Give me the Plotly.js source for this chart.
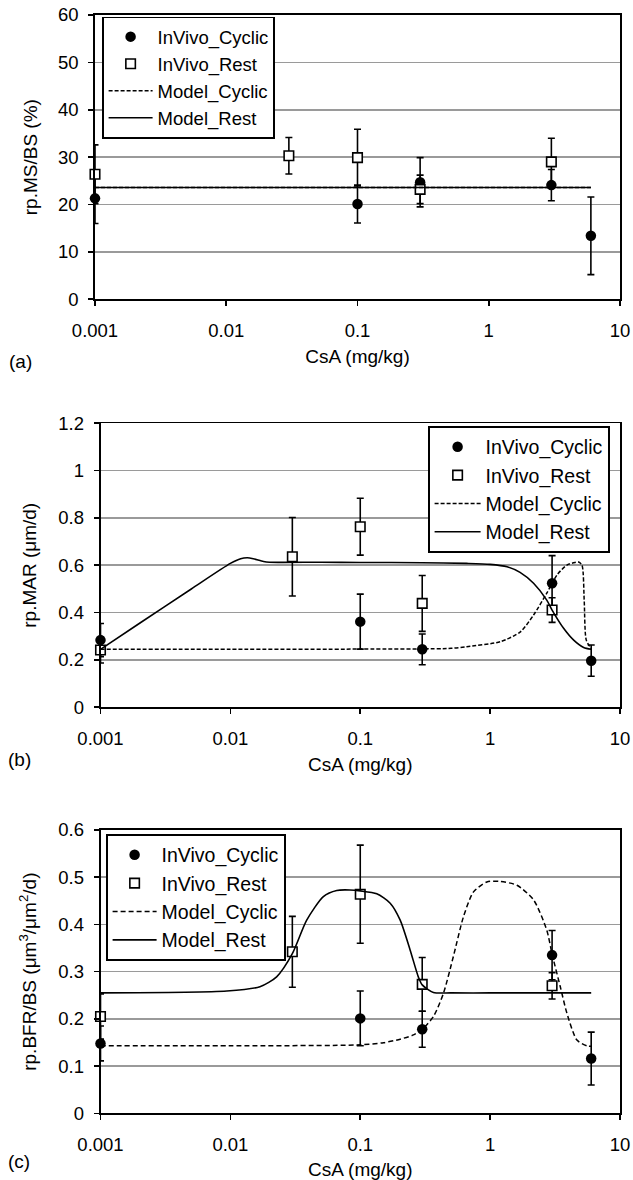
<!DOCTYPE html>
<html>
<head>
<meta charset="utf-8">
<script src="https://cdn.plot.ly/plotly-3.0.1.min.js"></script>
<style>html,body{margin:0;padding:0;background:#fff;}#chart{width:633px;height:1180px;}</style>
</head>
<body>
<div id="chart"></div>
<script>
// ---------- DATA ----------
const xTickVals = [0.001, 0.01, 0.1, 1, 10];
const xTickText = ["0.001", "0.01", "0.1", "1", "10"];
const seriesNames = ["InVivo_Cyclic", "InVivo_Rest", "Model_Cyclic", "Model_Rest"];

// Panel (a) rp.MS/BS (%)
const aCycX = [0.001, 0.1, 0.3, 3, 6];
const aCycY = [21.3, 20.1, 24.7, 24.1, 13.4];
const aCycErr = [5.3, 4.0, 5.2, 3.3, 8.2];
const aRestX = [0.001, 0.03, 0.1, 0.3, 3];
const aRestY = [26.4, 30.3, 29.9, 23.2, 29.0];
const aRestErr = [6.2, 3.85, 6.0, 3.0, 5.0];
const aModelX = [0.001, 6];
const aModelCyc = [23.6, 23.6];
const aModelRest = [23.6, 23.6];

// Panel (b) rp.MAR (um/d)
const bCycX = [0.001, 0.1, 0.3, 3, 6];
const bCycY = [0.284, 0.362, 0.245, 0.524, 0.197];
const bCycErr = [0.07, 0.116, 0.065, 0.117, 0.066];
const bRestX = [0.001, 0.03, 0.1, 0.3, 3];
const bRestY = [0.242, 0.636, 0.763, 0.439, 0.411];
const bRestErr = [0.055, 0.166, 0.12, 0.118, 0.052];
const bModelCycX = [0.001, 0.01, 0.1, 0.5, 0.66, 1.2, 1.71, 2.16, 2.73, 3.27, 3.9, 4.5, 4.8, 5.1, 5.3, 5.5, 6];
const bModelCyc = [0.245, 0.245, 0.246, 0.249, 0.256, 0.277, 0.319, 0.39, 0.482, 0.559, 0.601, 0.612, 0.614, 0.6, 0.453, 0.284, 0.248];
const bModelRestX = [0.001, 0.002, 0.005, 0.01, 0.012, 0.0135, 0.015, 0.018, 0.02, 0.05, 0.1, 0.3, 0.66, 1.0, 1.35, 1.7, 2.16, 2.73, 3.0, 3.68, 4.4, 5.25, 6];
const bModelRest = [0.245, 0.355, 0.5, 0.608, 0.628, 0.632, 0.628, 0.616, 0.613, 0.613, 0.612, 0.611, 0.608, 0.604, 0.594, 0.57, 0.524, 0.453, 0.411, 0.334, 0.284, 0.253, 0.245];

// Panel (c) rp.BFR/BS (um3/um2/d)
const cCycX = [0.001, 0.1, 0.3, 3, 6];
const cCycY = [0.148, 0.201, 0.178, 0.335, 0.116];
const cCycErr = [0.037, 0.058, 0.038, 0.052, 0.056];
const cRestX = [0.001, 0.03, 0.1, 0.3, 3];
const cRestY = [0.205, 0.342, 0.464, 0.273, 0.270];
const cRestErr = [0.048, 0.075, 0.104, 0.057, 0.028];
const cModelCycX = [0.001, 0.01, 0.1, 0.151, 0.203, 0.257, 0.3, 0.366, 0.437, 0.521, 0.623, 0.745, 0.944, 1.19, 1.61, 2.16, 2.73, 3.0, 3.47, 3.9, 4.66, 5.56, 6];
const cModelCyc = [0.143, 0.143, 0.145, 0.1495, 0.157, 0.166, 0.178, 0.205, 0.254, 0.332, 0.416, 0.469, 0.490, 0.491, 0.483, 0.452, 0.388, 0.337, 0.268, 0.212, 0.155, 0.143, 0.142];
const cModelRestX = [0.001, 0.0094, 0.0169, 0.0227, 0.03, 0.0387, 0.052, 0.0659, 0.083, 0.1, 0.134, 0.17, 0.203, 0.242, 0.28, 0.3, 0.366, 0.5, 1, 6];
const cModelRest = [0.255, 0.259, 0.268, 0.289, 0.338, 0.409, 0.459, 0.472, 0.473, 0.471, 0.465, 0.445, 0.409, 0.346, 0.289, 0.272, 0.256, 0.255, 0.255, 0.255];

// ---------- LAYOUT HELPERS ----------
const W = 633, H = 1180;
const FONT = "Liberation Sans, Arial, sans-serif";
function xd(l, r) { return [l / W, r / W]; }
function yd(t, b) { return [1 - b / H, 1 - t / H]; }

function panelTraces(n, cx, cy, ce, rx, ry, re, mcx, mcy, mrx, mry, dashLen) {
  const xa = n === 1 ? "x" : "x" + n, ya = n === 1 ? "y" : "y" + n, lg = n === 1 ? "legend" : "legend" + n;
  const eb = (arr) => ({ type: "data", array: arr, visible: true, color: "#000", thickness: 1.6, width: 3.5 });
  return [
    { x: cx, y: cy, error_y: eb(ce), type: "scatter", mode: "markers", name: seriesNames[0], cliponaxis: false,
      marker: { symbol: "circle", size: 10.5, color: "#000" }, xaxis: xa, yaxis: ya, legend: lg },
    { x: rx, y: ry, error_y: eb(re), type: "scatter", mode: "markers", name: seriesNames[1], cliponaxis: false,
      marker: { symbol: "square", size: 9.5, color: "#fff", line: { color: "#000", width: 1.6 } }, xaxis: xa, yaxis: ya, legend: lg },
    { x: mcx, y: mcy, type: "scatter", mode: "lines", name: seriesNames[2],
      line: { color: "#000", width: 1.5, dash: dashLen, shape: "spline", smoothing: 0.7 }, xaxis: xa, yaxis: ya, legend: lg },
    { x: mrx, y: mry, type: "scatter", mode: "lines", name: seriesNames[3],
      line: { color: "#000", width: 1.6, shape: "spline", smoothing: 0.7 }, xaxis: xa, yaxis: ya, legend: lg }
  ];
}

const data = [].concat(
  panelTraces(1, aCycX, aCycY, aCycErr, aRestX, aRestY, aRestErr, aModelX, aModelCyc, aModelX, aModelRest, "4px,2px"),
  panelTraces(2, bCycX, bCycY, bCycErr, bRestX, bRestY, bRestErr, bModelCycX, bModelCyc, bModelRestX, bModelRest, "4px,2px"),
  panelTraces(3, cCycX, cCycY, cCycErr, cRestX, cRestY, cRestErr, cModelCycX, cModelCyc, cModelRestX, cModelRest, "5px,3px")
);

function xAxis(dom, anchor) {
  return {
    type: "log", range: [-3, 1], domain: dom, anchor: anchor,
    tickmode: "array", tickvals: xTickVals, ticktext: xTickText,
    ticks: "outside", ticklen: 5, tickwidth: 1.6, tickcolor: "#000",
    showline: true, linecolor: "#000", linewidth: 1.8, mirror: true,
    showgrid: false, zeroline: false, ticklabelstandoff: 9,
    tickfont: { family: FONT, size: 18.5, color: "#000" },
    title: { text: "CsA (mg/kg)", font: { family: FONT, size: 19, color: "#000" }, standoff: 9 }
  };
}
function yAxis(dom, anchor, rng, dt, title, standoff) {
  return {
    range: rng, dtick: dt, tick0: 0, domain: dom, anchor: anchor,
    ticks: "outside", ticklen: 5, tickwidth: 1.6, tickcolor: "#000",
    showline: true, linecolor: "#000", linewidth: 1.8, mirror: true,
    showgrid: true, gridcolor: "#9a9a9a", gridwidth: 1.6, zeroline: false, ticklabelstandoff: 6,
    tickfont: { family: FONT, size: 18.5, color: "#000" },
    title: { text: title, font: { family: FONT, size: 19, color: "#000" }, standoff: standoff }
  };
}
function legendAt(px, py, fs, iw) {
  return {
    x: px / W, y: 1 - py / H, xanchor: "left", yanchor: "top",
    bgcolor: "#fff", bordercolor: "#000", borderwidth: 1.6,
    font: { family: FONT, size: fs, color: "#000" }, itemwidth: iw, tracegroupgap: 0
  };
}

const layout = {
  width: W, height: H, margin: { l: 0, r: 0, t: 0, b: 0 },
  paper_bgcolor: "#fff", plot_bgcolor: "#fff", showlegend: true,
  font: { family: FONT, color: "#000" },
  xaxis: xAxis(xd(95, 620), "y"),
  yaxis: yAxis(yd(15, 299.3), "x", [0, 60], 10, "rp.MS/BS (%)", 15),
  xaxis2: xAxis(xd(100.5, 620), "y2"),
  yaxis2: yAxis(yd(423.3, 707.3), "x2", [0, 1.2], 0.2, "rp.MAR (μm/d)", 17),
  xaxis3: xAxis(xd(100.5, 620), "y3"),
  yaxis3: yAxis(yd(830, 1113.3), "x3", [0, 0.6], 0.1, "rp.BFR/BS (μm<sup>3</sup>/μm<sup>2</sup>/d)", 17),
  legend: legendAt(102, 16.5, 18.5, 44),
  legend2: legendAt(428, 426, 19.5, 46),
  legend3: legendAt(106, 834, 19.5, 44),
  annotations: [
    { text: "(a)", x: 20 / W, y: 1 - 362 / H, xref: "paper", yref: "paper", showarrow: false, xanchor: "center", yanchor: "middle", font: { family: FONT, size: 19, color: "#000" } },
    { text: "(b)", x: 19 / W, y: 1 - 760 / H, xref: "paper", yref: "paper", showarrow: false, xanchor: "center", yanchor: "middle", font: { family: FONT, size: 19, color: "#000" } },
    { text: "(c)", x: 19 / W, y: 1 - 1161 / H, xref: "paper", yref: "paper", showarrow: false, xanchor: "center", yanchor: "middle", font: { family: FONT, size: 19, color: "#000" } }
  ]
};

Plotly.newPlot("chart", data, layout, { staticPlot: true, displayModeBar: false });
</script>
</body>
</html>
